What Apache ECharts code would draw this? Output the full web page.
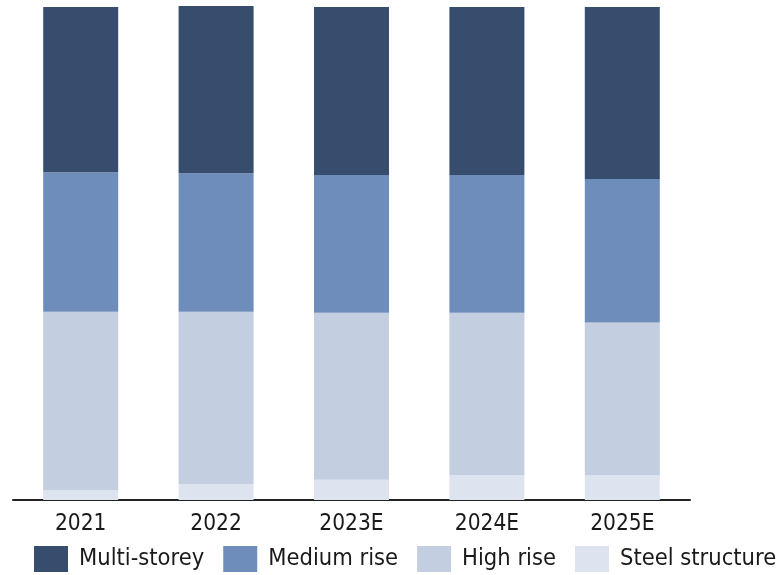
<!DOCTYPE html>
<html>
<head>
<meta charset="utf-8">
<script src="https://cdn.jsdelivr.net/npm/echarts@6/dist/echarts.min.js"></script>
<style>
  html, body { margin: 0; padding: 0; background: #fff; }
  #chart { width: 778px; height: 575px; }
</style>
</head>
<body>
<div id="chart"></div>
<script>
// categories and shares (%)
const years = ['2021', '2022', '2023E', '2024E', '2025E'];
const multiStorey = [33.5, 33.9, 34.1, 34.1, 34.9];
const mediumRise = [28.3, 28.1, 27.9, 27.9, 29.1];
const highRise = [36.2, 35.0, 33.9, 33.0, 31.0];
const steelStructure = [2.0, 3.2, 4.1, 5.0, 5.0];

const fontFamily = '"DejaVu Sans Condensed", "DejaVu Sans", sans-serif';

// bottom-to-top stacking order
function makeSeries(name, data, color) {
    return {
        name: name,
        type: 'bar',
        stack: 'total',
        data: data,
        barWidth: 75,
        clip: false,
        itemStyle: { color: color },
        emphasis: { disabled: true }
    };
}

let myChart = echarts.init(document.getElementById('chart'));
let option = {
    animation: false,
    grid: {
        left: 13,
        right: 88,
        top: 7,
        bottom: 75,
        containLabel: false
    },
    legend: {
        left: 34,
        top: 546,
        width: 760,
        padding: 0,
        itemWidth: 34,
        itemHeight: 26,
        itemGap: 19,
        icon: 'rect',
        data: ['Multi-storey', 'Medium rise', 'High rise', 'Steel structure'],
        textStyle: {
            fontFamily: fontFamily,
            fontSize: 23.5,
            color: '#1a1a1a',
            padding: [0, 0, 0, 6]
        }
    },
    xAxis: {
        type: 'category',
        data: years,
        axisLine: { lineStyle: { color: '#222', width: 2 } },
        axisTick: { show: false },
        axisLabel: {
            fontFamily: fontFamily,
            fontSize: 22.5,
            color: '#1a1a1a',
            margin: 13
        }
    },
    yAxis: {
        type: 'value',
        min: 0,
        max: 100,
        show: false,
        splitLine: { show: false }
    },
    series: [
        makeSeries('Steel structure', steelStructure, '#DDE4EF'),
        makeSeries('High rise', highRise, '#C3CEE1'),
        makeSeries('Medium rise', mediumRise, '#6E8DBA'),
        makeSeries('Multi-storey', multiStorey, '#374D6E')
    ]
};
myChart.setOption(option);
</script>
</body>
</html>
